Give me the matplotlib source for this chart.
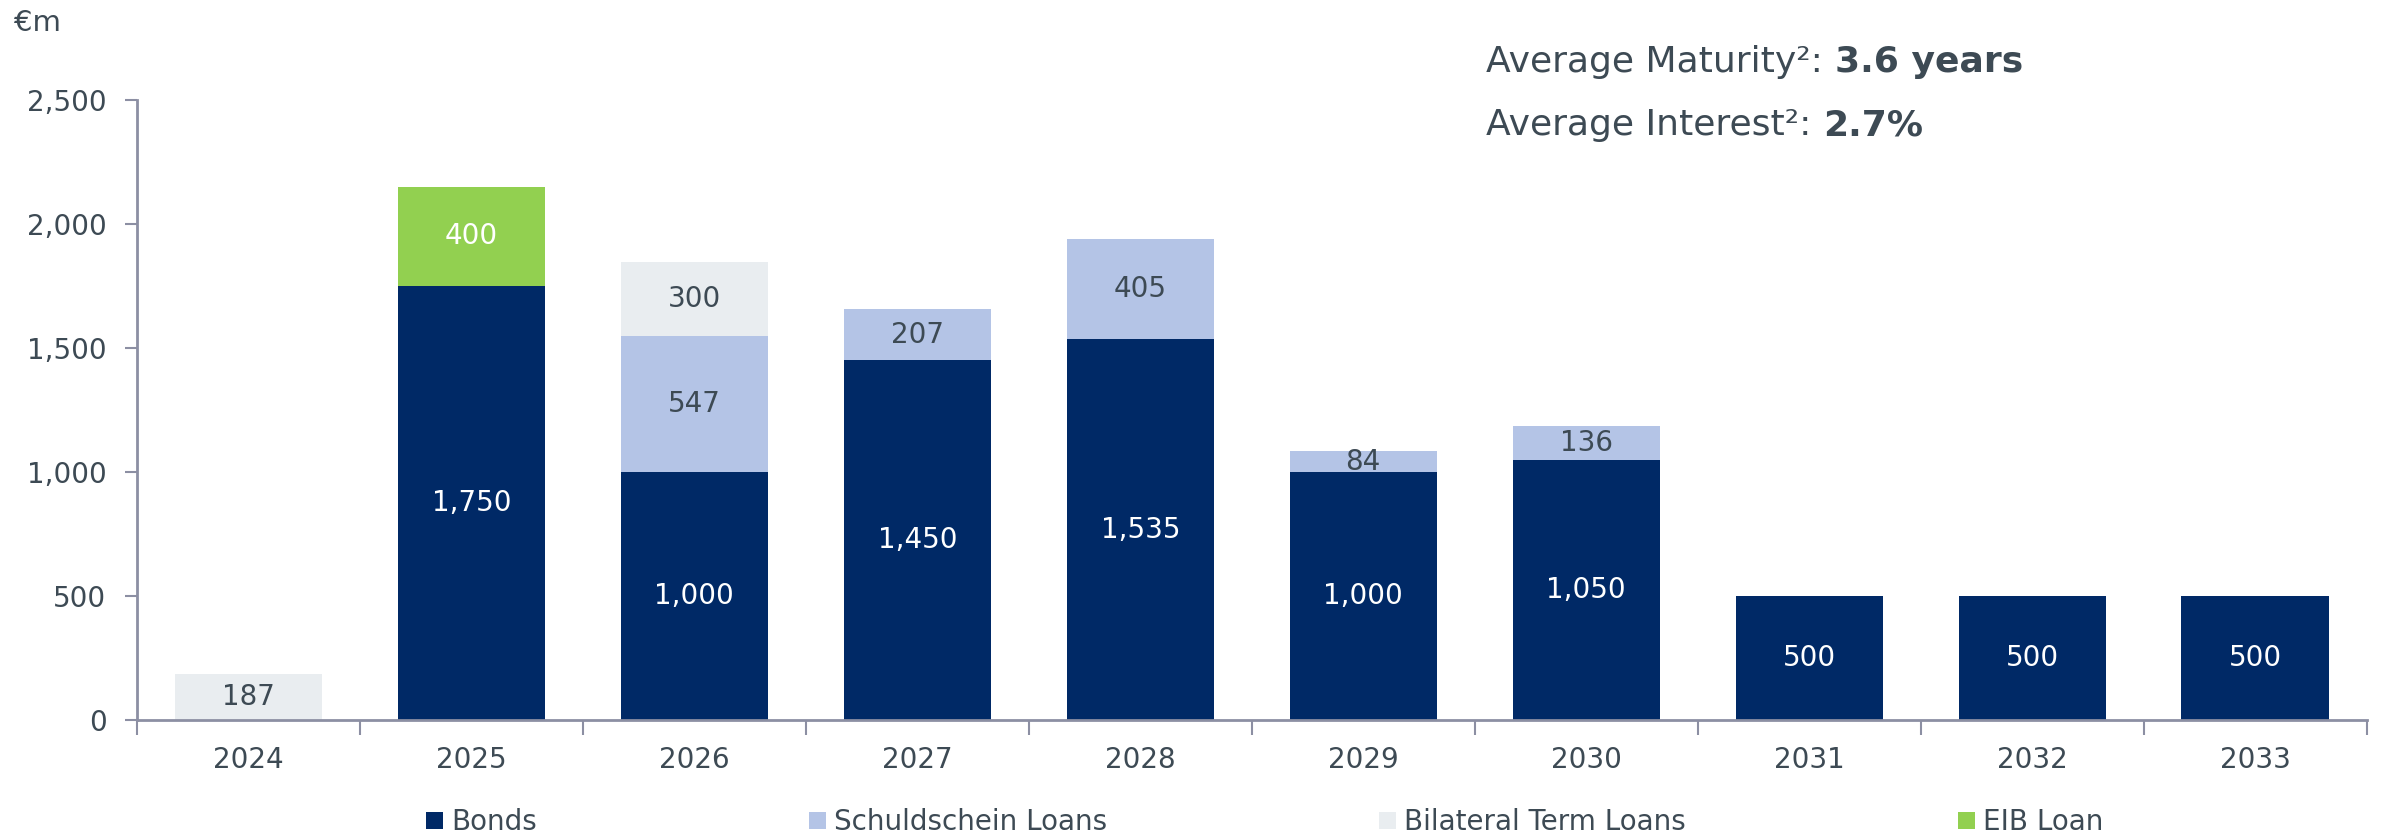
"""Debt maturity profile — stacked bars by instrument."""
import matplotlib
import matplotlib.pyplot as plt
import matplotlib.ticker as ticker
from matplotlib.patches import Patch
import numpy as np

matplotlib.use("Agg")

years = ["2024", "2025", "2026", "2027", "2028", "2029", "2030", "2031", "2032", "2033"]
bonds = [0, 1750, 1000, 1450, 1535, 1000, 1050, 500, 500, 500]
schuldschein = [0, 0, 547, 207, 405, 84, 136, 0, 0, 0]
bilateral = [187, 0, 300, 0, 0, 0, 0, 0, 0, 0]
eib = [0, 400, 0, 0, 0, 0, 0, 0, 0, 0]

series_names = ["Bonds", "Schuldschein Loans", "Bilateral Term Loans", "EIB Loan"]

_NAVY = "#002966"
_LIGHT_BLUE = "#b4c4e6"
_LIGHT_GREY = "#e9edf0"
_GREEN = "#92d050"
_TEXT = "#3d4a54"
_AXIS = "#8c8fa3"

plt.rcParams["font.family"] = ["DejaVu Sans"]

fig = plt.figure(figsize=(23.82, 8.39), dpi=100)
ax = fig.add_axes([0.0575, 0.1418, 0.936, 0.739])

x = np.arange(len(years))
width = 0.66
series = [
    (bonds, _NAVY, "white"),
    (schuldschein, _LIGHT_BLUE, _TEXT),
    (bilateral, _LIGHT_GREY, _TEXT),
    (eib, _GREEN, "white"),
]

bottom = np.zeros(len(years))
handles = []
for (vals, color, label_color), name in zip(series, series_names):
    vals = np.array(vals, dtype=float)
    ax.bar(x, vals, width, bottom=bottom, color=color, zorder=2)
    for xi, v, b in zip(x, vals, bottom):
        if v > 0:
            ax.text(xi, b + v / 2, f"{int(v):,}", ha="center", va="center",
                    color=label_color, fontsize=20)
    bottom += vals
    handles.append(Patch(facecolor=color, label=name))

ax.set_xlim(-0.5, len(years) - 0.5)
ax.set_ylim(0, 2500)
ax.yaxis.set_major_locator(ticker.MultipleLocator(500))
ax.yaxis.set_major_formatter(ticker.FuncFormatter(lambda v, _: f"{int(v):,}"))

ax.set_xticks(x)
ax.set_xticklabels(years)
ax.set_xticks(np.arange(-0.5, len(years)), minor=True)
ax.tick_params(axis="x", which="major", length=0, pad=19, labelsize=20, labelcolor=_TEXT)
ax.tick_params(axis="x", which="minor", length=11, width=1.5, color=_AXIS, direction="out")
ax.tick_params(axis="y", length=9, width=1.5, color=_AXIS, pad=13, labelsize=20,
               labelcolor=_TEXT)

for side in ("top", "right"):
    ax.spines[side].set_visible(False)
for side in ("left", "bottom"):
    ax.spines[side].set_color(_AXIS)
    ax.spines[side].set_linewidth(2)

fig.text(0.006, 0.972, "€m", ha="left", va="center", fontsize=21, color=_TEXT)

t1 = fig.text(0.624, 0.926, "Average Maturity²: ", ha="left", va="center",
              fontsize=26, color=_TEXT)
ax.annotate("3.6 years", xy=(1, 0.5), xycoords=t1, ha="left", va="center",
            fontsize=26, fontweight="bold", color=_TEXT)
t2 = fig.text(0.624, 0.851, "Average Interest²: ", ha="left", va="center",
              fontsize=26, color=_TEXT)
ax.annotate("2.7%", xy=(1, 0.5), xycoords=t2, ha="left", va="center",
            fontsize=26, fontweight="bold", color=_TEXT)

fig.legend(handles=handles, loc="center", bbox_to_anchor=(0.531, 0.02), ncol=4,
           frameon=False, fontsize=20, handlelength=0.6, handleheight=0.6,
           handletextpad=0.3, columnspacing=9.8, labelcolor=_TEXT)

fig.savefig("out.png", dpi=100, facecolor="white")
plt.close(fig)
